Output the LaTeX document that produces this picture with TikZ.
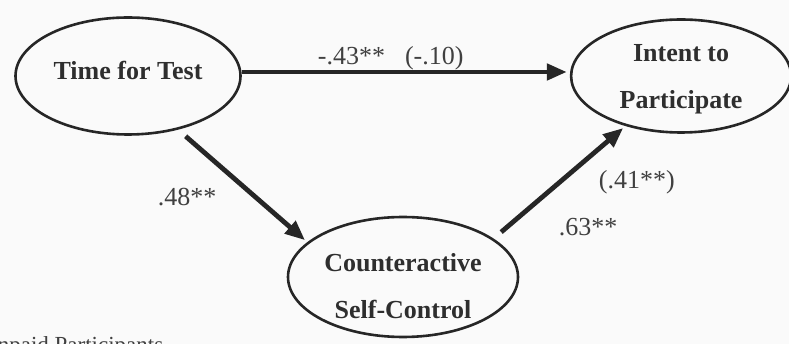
\documentclass[tikz,border=0pt]{standalone}
\usepackage{fontspec}
\setmainfont{Liberation Serif}
\usetikzlibrary{arrows.meta,positioning,shapes.geometric}

\begin{document}
\begin{tikzpicture}[x=1pt,y=-1pt,
  var/.style={draw=black!85,ellipse,line width=2.6pt,inner sep=0pt,align=center,text=black!82,font=\bfseries\fontsize{26}{47}\selectfont},
  coef/.style={text=black!75,inner sep=0pt,font=\fontsize{26}{30}\selectfont},
  link/.style={draw=black!85,line width=4.8pt,-{Triangle[length=20pt,width=16pt]}}]
  \path[use as bounding box,fill=black!2] (0,0) rectangle (789,344);
  \node[var,minimum width=225pt,minimum height=117pt,text height=18pt,text depth=10pt] (time) at (128,76) {Time for Test};
  \node[var,minimum width=220pt,minimum height=113pt,text height=70pt,text depth=4pt,right=328pt of time] (intent) {Intent to\\Participate};
  \node[var,minimum width=230pt,minimum height=120pt,text height=84pt,text depth=0pt] (ctrl) at (403,277) {Counteractive\\Self-Control};
  \draw[link,shorten >=3pt] ([yshift=4pt]time.east) -- node[coef,pos=.454,anchor=base,yshift=7pt]{-.43**\hspace{20pt}(-.10)} ([yshift=4pt]intent.west);
  \draw[link,shorten <=10pt,shorten >=3pt] (time.-47) -- node[coef,pos=.5,anchor=east,xshift=-24pt,yshift=-11pt]{.48**} (ctrl.160);
  \draw[link,shorten <=10pt,shorten >=3pt] (ctrl.23) -- node[coef,pos=.5,anchor=west,xshift=37pt]{(.41**)} node[coef,pos=.5,anchor=west,xshift=-3pt,yshift=-45pt]{.63**} (intent.-138);
  \node[coef,font=\fontsize{23}{27}\selectfont,anchor=base west] (note) at (-19,352) {Unpaid Participants};
\end{tikzpicture}
\end{document}
